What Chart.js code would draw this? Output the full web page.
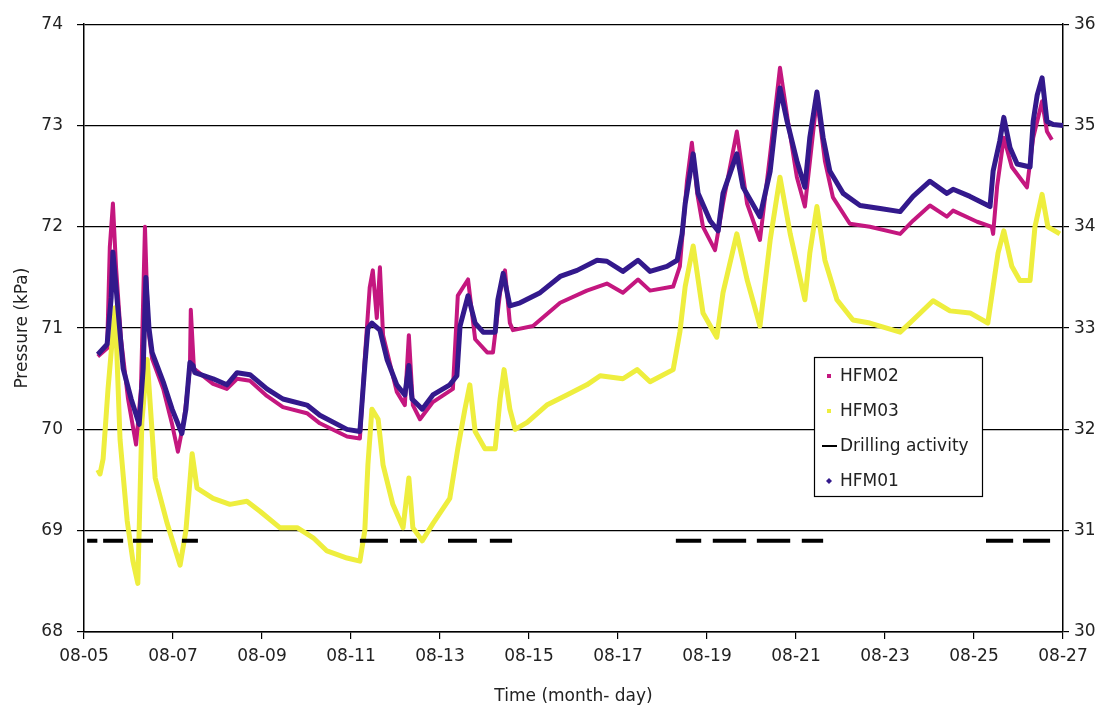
<!DOCTYPE html>
<html>
<head>
<meta charset="utf-8">
<title>Pressure HFM01-HFM03</title>
<script src="https://cdn.jsdelivr.net/npm/chart.js@4/dist/chart.umd.min.js"></script>
<style>
  html, body { margin: 0; padding: 0; background: #fff; }
  canvas { display: block; }
</style>
</head>
<body>
<canvas id="chart" width="1105" height="716"></canvas>
<script>
// Time axis: day of August (fractional), labelled every second day
const tickDays   = [5, 7, 9, 11, 13, 15, 17, 19, 21, 23, 25, 27];
const tickLabels = ['08-05', '08-07', '08-09', '08-11', '08-13', '08-15',
                    '08-17', '08-19', '08-21', '08-23', '08-25', '08-27'];

// HFM01 pressure, kPa (left axis) as [day, kPa]
const hfm01 = [
  [5.31,70.74],[5.52,70.84],[5.61,71.3],[5.65,71.75],[5.72,71.4],[5.88,70.6],[6.06,70.3],[6.24,70.05],
  [6.33,70.6],[6.39,71.5],[6.46,71.0],[6.53,70.76],[6.78,70.47],[6.98,70.2],[7.2,69.96],[7.29,70.2],
  [7.38,70.66],[7.45,70.63],[7.49,70.56],[7.9,70.5],[8.21,70.44],[8.44,70.56],[8.73,70.54],[9.11,70.4],
  [9.47,70.3],[10.01,70.24],[10.3,70.14],[10.91,70.0],[11.2,69.98],[11.31,70.63],[11.38,71.0],[11.47,71.05],
  [11.65,70.98],[11.81,70.69],[12.03,70.44],[12.21,70.34],[12.3,70.63],[12.37,70.3],[12.44,70.27],[12.6,70.2],
  [12.84,70.34],[13.22,70.44],[13.38,70.53],[13.45,71.02],[13.63,71.32],[13.79,71.05],[13.97,70.96],[14.24,70.96],
  [14.3,71.28],[14.42,71.54],[14.57,71.22],[14.8,71.25],[15.25,71.35],[15.7,71.51],[16.08,71.57],[16.53,71.67],
  [16.75,71.66],[17.11,71.56],[17.45,71.67],[17.72,71.56],[18.1,71.61],[18.33,71.67],[18.44,71.93],[18.51,72.23],
  [18.69,72.72],[18.8,72.33],[19.07,72.06],[19.25,71.96],[19.36,72.33],[19.67,72.72],[19.81,72.39],[20.19,72.1],
  [20.42,72.55],[20.57,73.14],[20.64,73.37],[20.8,73.04],[21.02,72.65],[21.2,72.39],[21.31,72.88],[21.47,73.33],
  [21.61,72.88],[21.76,72.55],[22.06,72.33],[22.44,72.21],[22.89,72.18],[23.34,72.15],[23.63,72.3],[24.01,72.45],
  [24.39,72.33],[24.53,72.37],[24.91,72.3],[25.36,72.2],[25.43,72.55],[25.58,72.85],[25.67,73.08],[25.81,72.78],
  [25.97,72.62],[26.26,72.59],[26.33,73.04],[26.42,73.3],[26.53,73.47],[26.64,73.04],[26.78,73.01],[27.0,73.0]
];

// HFM02 pressure, kPa (left axis) as [day, kPa]
const hfm02 = [
  [5.31,70.72],[5.52,70.8],[5.58,71.8],[5.65,72.23],[5.72,71.6],[5.83,70.9],[5.99,70.3],[6.17,69.85],
  [6.28,70.4],[6.37,72.0],[6.44,71.0],[6.53,70.7],[6.78,70.4],[6.98,70.05],[7.11,69.78],[7.25,70.1],
  [7.38,70.6],[7.4,71.18],[7.47,70.6],[7.9,70.45],[8.21,70.4],[8.44,70.5],[8.73,70.48],[9.11,70.33],
  [9.47,70.22],[10.01,70.16],[10.3,70.06],[10.91,69.93],[11.2,69.91],[11.31,70.7],[11.42,71.4],[11.49,71.57],
  [11.58,71.1],[11.65,71.6],[11.72,70.93],[12.03,70.37],[12.21,70.24],[12.3,70.93],[12.39,70.24],[12.55,70.1],
  [12.84,70.27],[13.29,70.4],[13.4,71.32],[13.63,71.48],[13.79,70.89],[14.06,70.76],[14.19,70.76],[14.35,71.35],
  [14.46,71.57],[14.57,71.05],[14.64,70.98],[15.09,71.02],[15.7,71.25],[16.3,71.37],[16.75,71.44],[17.11,71.35],
  [17.45,71.48],[17.72,71.37],[18.24,71.41],[18.39,71.61],[18.55,72.45],[18.66,72.83],[18.78,72.33],[18.91,72.0],
  [19.18,71.77],[19.36,72.23],[19.67,72.94],[19.9,72.23],[20.19,71.87],[20.42,72.72],[20.64,73.57],[20.82,73.04],
  [21.02,72.49],[21.2,72.2],[21.47,73.27],[21.65,72.65],[21.83,72.29],[22.21,72.03],[22.66,72.0],[23.34,71.93],
  [23.63,72.06],[24.01,72.21],[24.39,72.1],[24.53,72.16],[25.07,72.05],[25.4,72.0],[25.43,71.93],[25.52,72.4],
  [25.67,72.88],[25.85,72.59],[26.19,72.39],[26.33,72.88],[26.53,73.24],[26.64,72.94],[26.75,72.86]
];

// HFM03 pressure, kPa (right axis) as [day, kPa]
const hfm03 = [
  [5.31,31.6],[5.36,31.56],[5.43,31.71],[5.54,32.4],[5.63,32.86],[5.7,33.2],[5.81,31.9],[5.97,31.1],
  [6.1,30.7],[6.21,30.48],[6.3,32.07],[6.42,32.69],[6.6,31.52],[6.87,31.07],[7.16,30.66],[7.29,31.0],
  [7.43,31.76],[7.54,31.42],[7.9,31.32],[8.28,31.26],[8.66,31.29],[8.96,31.19],[9.4,31.03],[9.79,31.03],
  [10.15,30.93],[10.46,30.8],[10.91,30.73],[11.2,30.7],[11.31,31.0],[11.38,31.65],[11.47,32.2],[11.61,32.1],
  [11.72,31.65],[11.94,31.26],[12.17,31.03],[12.3,31.52],[12.39,31.03],[12.6,30.9],[12.84,31.07],[13.22,31.32],
  [13.4,31.81],[13.56,32.2],[13.67,32.44],[13.79,31.98],[14.01,31.81],[14.24,31.81],[14.35,32.3],[14.44,32.59],
  [14.57,32.2],[14.69,32.0],[14.96,32.07],[15.4,32.24],[15.85,32.34],[16.3,32.44],[16.6,32.53],[17.11,32.5],
  [17.43,32.59],[17.72,32.47],[18.24,32.59],[18.39,32.96],[18.51,33.41],[18.69,33.81],[18.91,33.15],[19.22,32.91],
  [19.36,33.35],[19.67,33.93],[19.9,33.48],[20.19,33.02],[20.42,33.87],[20.64,34.49],[20.87,33.93],[21.2,33.28],
  [21.31,33.74],[21.47,34.2],[21.65,33.67],[21.92,33.28],[22.28,33.08],[22.66,33.05],[23.34,32.96],[23.63,33.08],
  [24.08,33.27],[24.46,33.17],[24.91,33.15],[25.31,33.05],[25.43,33.41],[25.54,33.74],[25.67,33.96],[25.85,33.61],
  [26.03,33.47],[26.26,33.47],[26.37,34.0],[26.53,34.32],[26.66,34.0],[26.93,33.93]
];

// Drilling shifts as [start day, end day], drawn at a fixed marker level
const drillingShifts = [
  [5.07,5.3],[5.43,5.88],[6.1,6.55],[7.2,7.56],
  [11.2,11.83],[12.1,12.48],[13.18,13.83],[14.12,14.62],
  [18.3,18.87],[19.13,19.88],[20.12,20.87],[21.13,21.61],
  [25.27,25.88],[26.1,26.71]
];
const drillingLevel = 68.9;

const toPoints = pairs => pairs.map(([x, y]) => ({ x, y }));

const drillingPoints = [];
drillingShifts.forEach(([s, e]) => {
  drillingPoints.push({ x: s, y: drillingLevel }, { x: e, y: drillingLevel }, { x: e, y: null });
});

const FONT = 'DejaVu Sans';
const TEXT = '#222';

// Legend drawn as a framed box inside the plot area
const insetLegend = {
  id: 'insetLegend',
  afterDraw(chart) {
    const ctx = chart.ctx;
    const box = { x: 814.5, y: 357.5, w: 168, h: 139 };
    ctx.save();
    ctx.fillStyle = '#fff';
    ctx.fillRect(box.x, box.y, box.w, box.h);
    ctx.strokeStyle = '#000';
    ctx.lineWidth = 1.2;
    ctx.strokeRect(box.x, box.y, box.w, box.h);
    ctx.font = '17px "' + FONT + '"';
    ctx.textBaseline = 'middle';
    ctx.textAlign = 'left';
    const rows = [376, 411, 446, 481];
    chart.data.datasets.forEach((ds, i) => {
      const y = rows[i];
      const mx = 829;
      ctx.fillStyle = ds.borderColor;
      ctx.strokeStyle = ds.borderColor;
      if (ds.legendMark === 'dash') {
        ctx.lineWidth = 2;
        ctx.beginPath();
        ctx.moveTo(822, y);
        ctx.lineTo(837, y);
        ctx.stroke();
      } else if (ds.legendMark === 'diamond') {
        ctx.beginPath();
        ctx.moveTo(mx, y - 3);
        ctx.lineTo(mx + 3, y);
        ctx.lineTo(mx, y + 3);
        ctx.lineTo(mx - 3, y);
        ctx.closePath();
        ctx.fill();
      } else {
        ctx.fillRect(mx - 2, y - 2, 4, 4);
      }
      ctx.fillStyle = TEXT;
      ctx.fillText(ds.label, 840, y + 1);
    });
    ctx.restore();
  }
};

new Chart(document.getElementById('chart'), {
  type: 'line',
  data: {
    datasets: [
      {
        label: 'HFM02', data: toPoints(hfm02), yAxisID: 'y',
        borderColor: '#C4177F', borderWidth: 4, order: 2, legendMark: 'square'
      },
      {
        label: 'HFM03', data: toPoints(hfm03), yAxisID: 'y2',
        borderColor: '#EEEE3E', borderWidth: 5, order: 3, legendMark: 'square'
      },
      {
        label: 'Drilling activity', data: drillingPoints, yAxisID: 'y',
        borderColor: '#000', borderWidth: 4, spanGaps: false, order: 1,
        borderCapStyle: 'butt', legendMark: 'dash'
      },
      {
        label: 'HFM01', data: toPoints(hfm01), yAxisID: 'y',
        borderColor: '#33198C', borderWidth: 5, order: 0, legendMark: 'diamond'
      }
    ]
  },
  options: {
    responsive: false,
    animation: false,
    devicePixelRatio: 1,
    parsing: true,
    layout: { padding: { top: 19, left: 0, right: 0, bottom: 0 } },
    elements: {
      point: { radius: 0, hoverRadius: 0 },
      line: { tension: 0, borderJoinStyle: 'round', fill: false }
    },
    plugins: {
      legend: { display: false },
      tooltip: { enabled: false }
    },
    scales: {
      x: {
        type: 'linear',
        min: 5, max: 27,
        afterBuildTicks: s => { s.ticks = tickDays.map(v => ({ value: v })); },
        afterFit: s => { s.height = 84; },
        ticks: {
          autoSkip: false, maxRotation: 0, padding: 7,
          color: TEXT, font: { family: FONT, size: 17 },
          callback: v => tickLabels[tickDays.indexOf(v)]
        },
        grid: { drawOnChartArea: false, drawTicks: true, tickLength: 7, color: '#000', lineWidth: 1.2 },
        border: { color: '#000', width: 1.5 },
        title: {
          display: true, text: 'Time (month- day)', color: TEXT,
          font: { family: FONT, size: 17 }, padding: { top: 0, bottom: 9 }
        }
      },
      y: {
        position: 'left',
        min: 68, max: 74,
        afterFit: s => { s.width = 84; },
        ticks: { stepSize: 1, padding: 14, color: TEXT, font: { family: FONT, size: 17 } },
        grid: { color: '#000', lineWidth: 1.2, drawTicks: true, tickLength: 7 },
        border: { color: '#000', width: 1.5 },
        title: {
          display: true, text: 'Pressure (kPa)', color: TEXT,
          font: { family: FONT, size: 17 }, padding: { top: 12, bottom: 0 }
        }
      },
      y2: {
        position: 'right',
        min: 30, max: 36,
        afterFit: s => { s.width = 42; },
        ticks: { stepSize: 1, padding: 5, color: TEXT, font: { family: FONT, size: 17 } },
        grid: { drawOnChartArea: false, drawTicks: true, tickLength: 6, color: '#000', lineWidth: 1.2 },
        border: { color: '#000', width: 1.5 }
      }
    }
  },
  plugins: [insetLegend]
});
</script>
</body>
</html>
